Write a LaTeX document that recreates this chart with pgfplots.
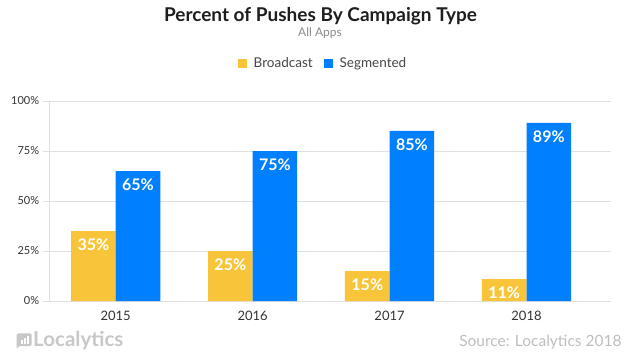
\documentclass[border=0pt]{standalone}
\usepackage{fontspec}
\setmainfont{Lato}
\usepackage{pgfplots}
\pgfplotsset{compat=1.18}
\definecolor{byellow}{RGB}{248,197,58}
\definecolor{bblue}{RGB}{0,128,255}
\definecolor{gridc}{RGB}{226,223,223}
\definecolor{txt}{RGB}{51,51,51}
\definecolor{titc}{RGB}{30,30,30}
\definecolor{subc}{RGB}{140,140,140}
\definecolor{legc}{RGB}{70,70,70}
\definecolor{srcc}{RGB}{190,190,190}
\definecolor{logoc}{RGB}{200,200,200}
\begin{document}
\begin{tikzpicture}[x=1bp,y=1bp]
\path[use as bounding box] (0,0) rectangle (631,362);
\fill[white] (0,0) rectangle (631,362);
\node[anchor=base, inner sep=0pt, text=titc, font=\bfseries\fontsize{19bp}{22bp}\selectfont] at (320.5,340.3) {Percent of Pushes By Campaign Type};
\node[anchor=base, inner sep=0pt, text=subc, font=\fontsize{12bp}{14bp}\selectfont] at (320,326) {All Apps};
\begin{axis}[
  at={(49bp,61bp)}, anchor=south west,
  scale only axis, width=562bp, height=200bp,
  xmin=-0.487, xmax=3.617, ymin=0, ymax=100,
  ybar=0pt, bar width=44.6bp,
  axis lines=left, axis line style={draw=gridc, line width=0.8bp, -},
  ytick={0,25,50,75,100}, yticklabels={0\%,25\%,50\%,75\%,100\%},
  xtick={0,1,2,3}, xticklabels={2015,2016,2017,2018},
  ymajorgrids, major grid style={draw=gridc, line width=0.8bp},
  tick align=outside, major tick length=6.3bp,
  ytick style={draw=gridc, line width=0.8bp}, xtick style={draw=none},
  yticklabel style={font=\fontsize{11bp}{13bp}\selectfont, text=txt},
  xticklabel style={font=\fontsize{13bp}{15bp}\selectfont, text=txt},
  /pgf/number format/assume math mode=true,
  nodes near coords={\pgfmathprintnumber{\pgfplotspointmeta}\%},
  nodes near coords align=below,
  every node near coord/.append style={anchor=north, yshift=-7.3bp, inner sep=0pt, text=white, font=\bfseries\fontsize{16bp}{19bp}\selectfont},
  legend style={at={(0.4875,1.1885)}, anchor=center, draw=none, fill=none, legend columns=-1,
    font=\fontsize{13.5bp}{15bp}\selectfont, text=legc,
    /tikz/every odd column/.append style={column sep=5bp},
    /tikz/every even column/.append style={column sep=9bp}},
  legend cell align=left,
]
\addplot[fill=byellow, draw=none, legend image code/.code={\fill[byellow] (0bp,-4.5bp) rectangle (9bp,4.5bp);}] coordinates {(0,35) (1,25) (2,15) (3,11)};
\addplot[fill=bblue, draw=none, legend image code/.code={\fill[bblue] (0bp,-4.5bp) rectangle (9bp,4.5bp);}] coordinates {(0,65) (1,75) (2,85) (3,89)};
\legend{Broadcast, Segmented}
\end{axis}
% Localytics logo
\fill[logoc, rounded corners=1.5bp] (16.7,16) rectangle (31.7,28.7);
\fill[logoc] (16.7,18) -- (16.7,13.5) -- (20.5,16.5) -- cycle;
\fill[white] (21,18.5) rectangle (22.6,22);
\fill[white] (24,18.5) rectangle (25.6,24.5);
\fill[white] (27,18.5) rectangle (28.6,26.5);
\node[anchor=base west, inner sep=0pt, text=logoc, font=\bfseries\fontsize{20.5bp}{24bp}\selectfont] at (33,15.3) {Localytics};
\node[anchor=base east, inner sep=0pt, text=srcc, font=\fontsize{15.5bp}{18bp}\selectfont] at (621.7,16) {Source: Localytics 2018};
\end{tikzpicture}
\end{document}
